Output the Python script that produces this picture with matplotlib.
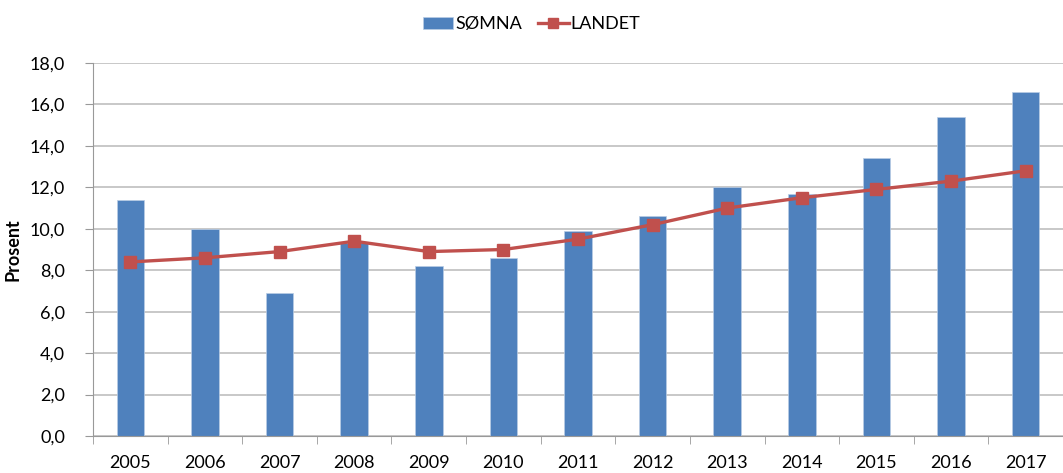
import numpy as np
import matplotlib
matplotlib.use("Agg")
import matplotlib.pyplot as plt

plt.rcParams['font.family'] = ['Lato', 'DejaVu Sans']

years = ['2005', '2006', '2007', '2008', '2009', '2010', '2011',
         '2012', '2013', '2014', '2015', '2016', '2017']
somna = [11.4, 10.0, 6.9, 9.3, 8.2, 8.6, 9.9, 10.6, 12.0, 11.7, 13.4, 15.4, 16.6]
landet = [8.4, 8.6, 8.9, 9.4, 8.9, 9.0, 9.5, 10.2, 11.0, 11.5, 11.9, 12.3, 12.8]
yticks = [0, 2, 4, 6, 8, 10, 12, 14, 16, 18]

fig = plt.figure(figsize=(10.63, 4.73), dpi=100)
ax = fig.add_axes([0.0875, 0.0782, 0.9125, 0.7886])

x = np.arange(len(years))
bars = ax.bar(x, somna, width=0.37, color='#4F81BD', edgecolor='#B9CDE5',
              linewidth=0.5, label='SØMNA', zorder=2)
line, = ax.plot(x, landet, color='#C0504D', lw=2.4, marker='s', markersize=8.5,
                label='LANDET', zorder=3)

ax.set_xlim(-0.5, len(years) - 0.5)
ax.set_ylim(0, 18)
ax.set_yticks(yticks)
ax.set_yticklabels([('%.1f' % v).replace('.', ',') for v in yticks], fontsize=13)
ax.set_xticks(x)
ax.set_xticklabels(years, fontsize=13)
ax.tick_params(axis='x', length=0, pad=14)
ax.set_xticks(np.arange(-0.5, len(years)), minor=True)
ax.tick_params(axis='x', which='minor', length=6, color='#999999')
ax.tick_params(axis='y', length=6, color='#999999', pad=14)

ax.yaxis.grid(True, color='#BFBFBF', lw=1.2)
ax.set_axisbelow(True)
for s in ['top', 'right']:
    ax.spines[s].set_visible(False)
ax.spines['left'].set_color('#999999')
ax.spines['bottom'].set_color('#999999')

ax.set_ylabel('Prosent', fontsize=13, fontweight='bold', labelpad=6)

fig.legend([bars, line], ['SØMNA', 'LANDET'], loc='upper center',
           bbox_to_anchor=(0.5, 1.0), ncol=2, frameon=False,
           fontsize=13, handlelength=1.7, columnspacing=0.9, handletextpad=0.1,
           markerscale=0.8)

fig.savefig('out.png', dpi=100)
